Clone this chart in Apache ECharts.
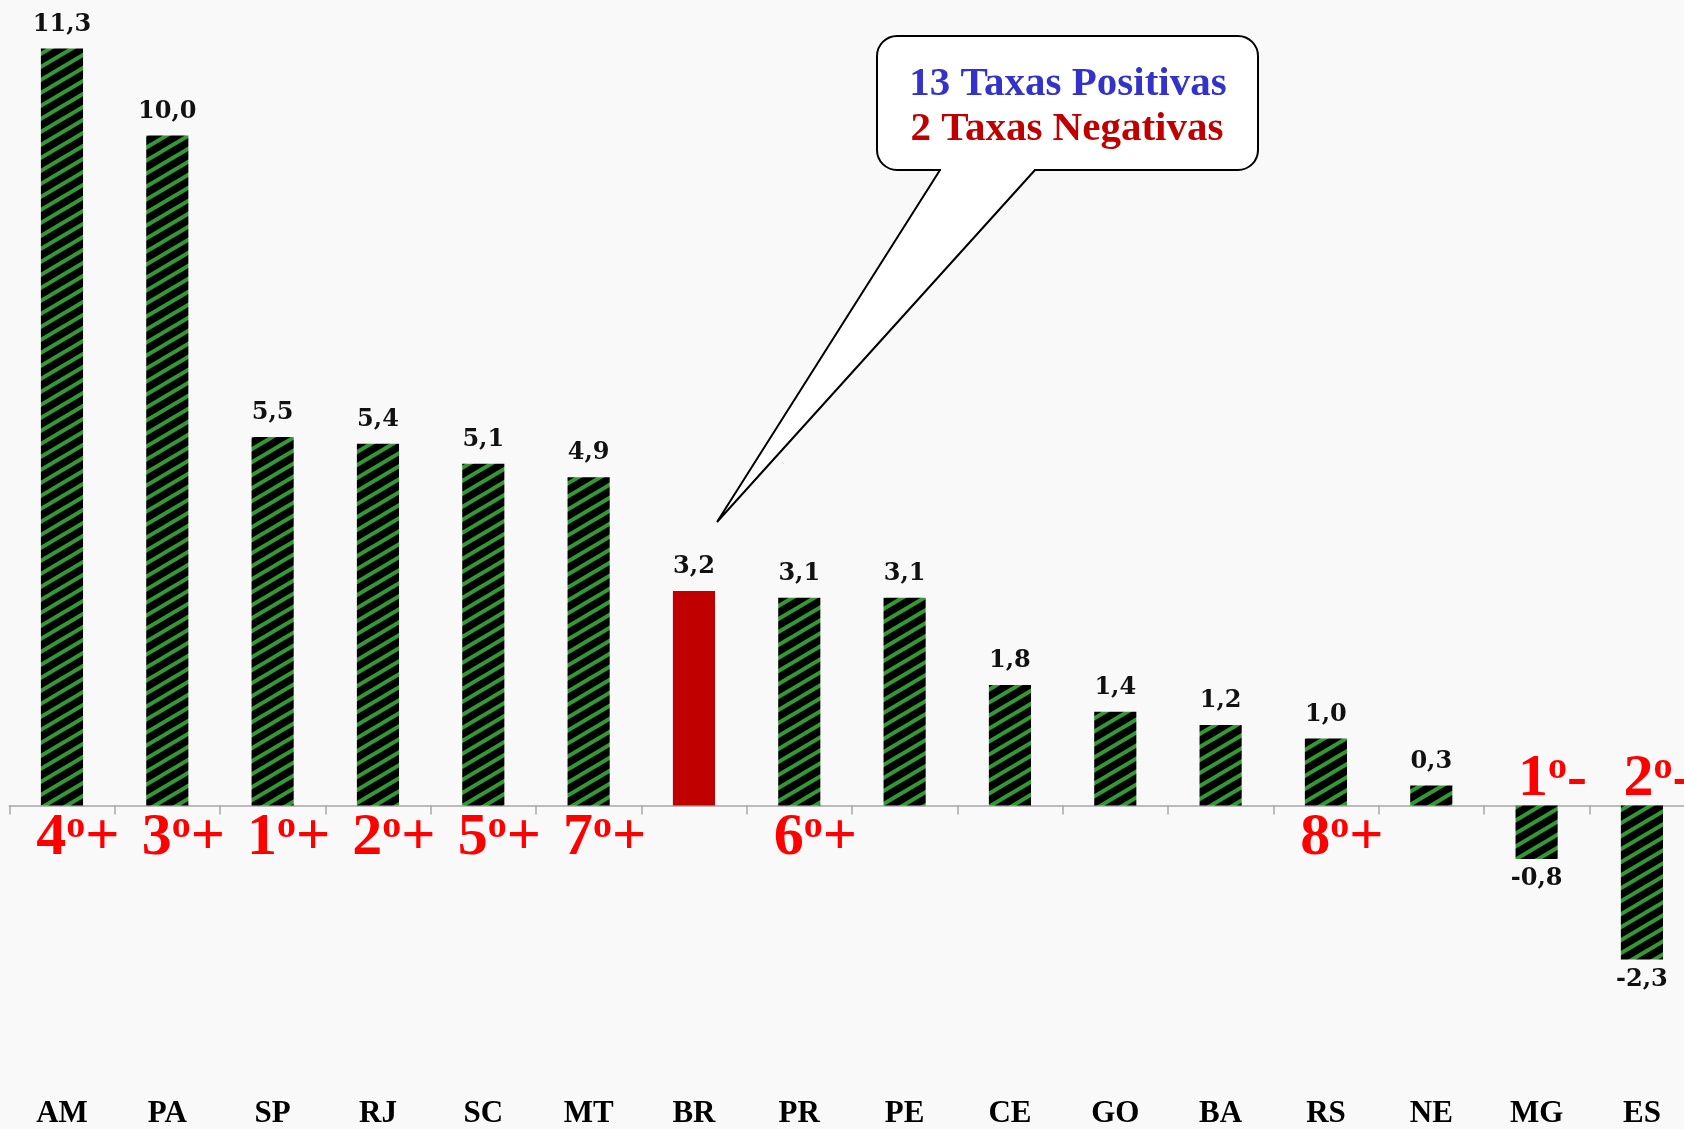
<!DOCTYPE html>
<html>
<head>
<meta charset="utf-8">
<script src="https://cdn.jsdelivr.net/npm/echarts@6/dist/echarts.min.js"></script>
<style>
  html, body { margin: 0; padding: 0; background: #f9f9f9; }
  #chart { width: 1684px; height: 1129px; }
</style>
</head>
<body>
<div id="chart"></div>
<script>
// dados
var estados = ['AM', 'PA', 'SP', 'RJ', 'SC', 'MT', 'BR', 'PR', 'PE', 'CE', 'GO', 'BA', 'RS', 'NE', 'MG', 'ES']
var taxas = [11.3, 10.0, 5.5, 5.4, 5.1, 4.9, 3.2, 3.1, 3.1, 1.8, 1.4, 1.2, 1.0, 0.3, -0.8, -2.3]
// posicao no ranking (vazio = sem marca)
var rankNum = ['4', '3', '1', '2', '5', '7', '', '6', '', '', '', '', '8', '', '1', '2']
var rankSinal = ['+', '+', '+', '+', '+', '+', '', '+', '', '', '', '', '+', '', '-', '-']
var calloutLinhas = ['13 Taxas Positivas', '2 Taxas Negativas']

// padrao listrado (preto com diagonais verdes)
function makePattern () {
  var w = 22, h = 13
  var c = document.createElement('canvas')
  c.width = w
  c.height = h
  var ctx = c.getContext('2d')
  ctx.fillStyle = '#000'
  ctx.fillRect(0, 0, w, h)
  ctx.strokeStyle = '#329a32'
  ctx.lineWidth = 4
  for (var k = -1; k <= 1; k++) {
    ctx.beginPath()
    ctx.moveTo(-w + k * w, 2 * h)
    ctx.lineTo(2 * w + k * w, -h)
    ctx.stroke()
  }
  return c
}
var listrado = { image: makePattern(), repeat: 'repeat' }

var myChart = echarts.init(document.getElementById('chart'))

var barData = taxas.map(function (v, i) {
  var item = {
    value: v,
    label: { position: v >= 0 ? 'top' : 'bottom', distance: v >= 0 ? 12 : 8 }
  }
  if (estados[i] === 'BR') item.itemStyle = { color: '#c00000' }
  return item
})
var rankData = taxas.map(function (v, i) {
  return {
    value: v,
    label: { position: v >= 0 ? 'bottom' : 'top', distance: v >= 0 ? 3 : -4 }
  }
})

var serif = 'Liberation Serif'

var option = {
  backgroundColor: '#f9f9f9',
  animation: false,
  grid: { left: 9.3, width: 1685.3, top: 1.5, bottom: 55.5, outerBoundsMode: 'none' },
  xAxis: [
    {
      type: 'category',
      data: estados,
      axisLine: { onZero: true, lineStyle: { color: '#a6a6a6', width: 1.5 } },
      axisTick: { show: true, length: 9, lineStyle: { color: '#a6a6a6', width: 1.5 } },
      axisLabel: { show: false }
    },
    {
      type: 'category',
      data: estados,
      position: 'bottom',
      axisLine: { show: false },
      axisTick: { show: false },
      axisLabel: {
        margin: 25,
        color: '#000',
        fontFamily: serif,
        fontWeight: 'bold',
        fontSize: 31
      }
    }
  ],
  yAxis: {
    type: 'value',
    min: -4,
    max: 12,
    show: false
  },
  series: [
    {
      name: 'taxa',
      type: 'bar',
      xAxisIndex: 0,
      barWidth: '40%',
      barGap: '-100%',
      data: barData,
      itemStyle: { color: listrado },
      label: {
        show: true,
        color: '#111',
        fontFamily: 'DejaVu Serif',
        fontWeight: 'bold',
        fontSize: 24,
        formatter: function (p) { return p.value.toFixed(1).replace('.', ',') }
      }
    },
    {
      name: 'ranking',
      type: 'bar',
      xAxisIndex: 0,
      barWidth: '40%',
      barGap: '-100%',
      data: rankData,
      itemStyle: { color: 'rgba(0,0,0,0)' },
      silent: true,
      label: {
        show: true,
        offset: [16, 0],
        formatter: function (p) {
          var n = rankNum[p.dataIndex]
          if (!n) return ''
          return '{n|' + n + '}{o|o}{n|' + rankSinal[p.dataIndex] + '}'
        },
        rich: {
          n: { color: '#ff0000', fontFamily: serif, fontWeight: 'bold', fontSize: 60, lineHeight: 60 },
          o: { color: '#ff0000', fontFamily: serif, fontWeight: 'bold', fontSize: 38, lineHeight: 38, verticalAlign: 'top' }
        }
      }
    }
  ],
  graphic: [
    {
      type: 'rect',
      shape: { x: 877, y: 36, width: 381, height: 134, r: 20 },
      style: { fill: '#fff', stroke: '#000', lineWidth: 2 },
      z: 10
    },
    {
      type: 'polygon',
      shape: { points: [[941, 166], [941, 171], [717, 522], [1034, 171], [1034, 166]] },
      style: { fill: '#fff' },
      z: 11
    },
    {
      type: 'polyline',
      shape: { points: [[940, 170], [717, 522], [1035, 170]] },
      style: { stroke: '#000', lineWidth: 2, fill: null },
      z: 12
    },
    {
      type: 'text',
      x: 1068,
      y: 84,
      style: {
        text: calloutLinhas[0],
        fill: '#3333cc',
        font: 'bold 41px "Liberation Serif"',
        align: 'center',
        verticalAlign: 'middle'
      },
      z: 13
    },
    {
      type: 'text',
      x: 1067,
      y: 129,
      style: {
        text: calloutLinhas[1],
        fill: '#c00000',
        font: 'bold 41px "Liberation Serif"',
        align: 'center',
        verticalAlign: 'middle'
      },
      z: 13
    }
  ]
}

myChart.setOption(option)
</script>
</body>
</html>
